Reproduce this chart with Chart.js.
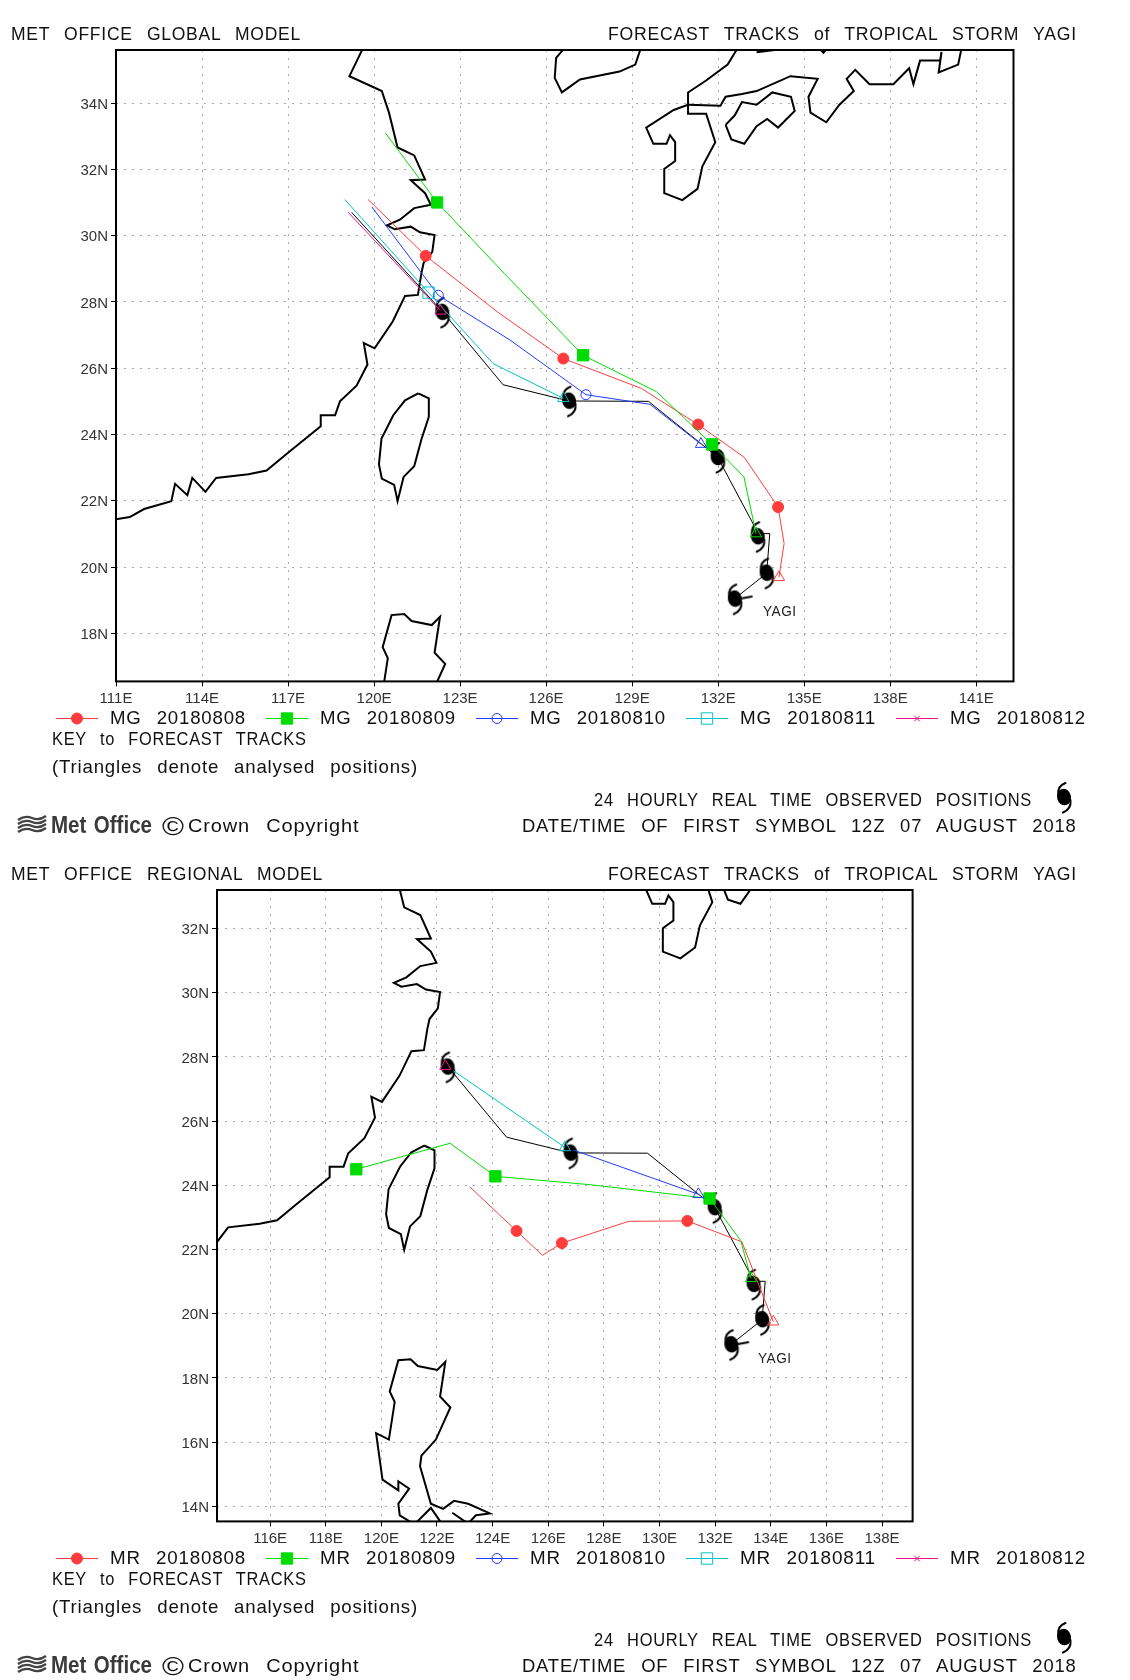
<!DOCTYPE html>
<html><head><meta charset="utf-8">
<style>
html,body{margin:0;padding:0;background:#fff;width:1130px;height:1680px;overflow:hidden}
canvas{position:absolute;left:0}
.t{position:absolute;white-space:pre;line-height:1;color:#111;transform-origin:0 50%;font-family:"Liberation Sans",sans-serif}
</style>
<script src="https://cdn.jsdelivr.net/npm/chart.js@4/dist/chart.umd.js"></script>
</head><body>
<script>
// ---------- coastlines (lon / lat) ----------
const chinaLon=[119.64,119.14,120.27,120.52,120.82,121.4,121.78,121.28,121.78,121.98,121.4,120.9,120.45,120.72,121.28,121.6,122.11,122.03,121.73,121.65,121.53,121.08,120.65,120.02,119.64,119.77,119.39,118.81,118.64,118.14,118.14,117.0,116.25,115.62,114.49,114.12,113.66,113.49,113.06,112.93,111.98,111.48,111.0];
const chinaLat=[35.7,34.81,34.36,33.71,32.66,32.42,31.69,31.67,31.28,30.93,30.83,30.48,30.31,30.19,30.27,30.1,30.02,29.51,29.18,28.86,28.21,28.18,27.41,26.6,26.76,26.11,25.47,25.0,24.58,24.58,24.25,23.45,22.91,22.8,22.69,22.27,22.69,22.17,22.51,21.99,21.75,21.51,21.44];
const taiwanLon=[121.54,121.91,121.91,121.65,121.4,121.03,120.82,120.7,120.27,120.17,120.26,120.67,121.08,121.54];
const taiwanLat=[25.24,25.09,24.53,23.85,23.04,22.72,21.99,22.48,22.67,23.1,23.88,24.58,25.03,25.24];
const koreaLon=[129.32,129.11,128.56,127.18,126.55,126.3,126.35,126.68];
const koreaLat=[35.7,35.16,34.95,34.71,34.32,34.76,35.36,35.7];
const honshuNLon=[132.71,132.33,131.58,130.95,130.95];
const honshuNLat=[35.7,35.16,34.68,34.32,33.95];
const kyushuLon=[130.95,130.45,129.49,129.74,130.2,130.32,130.5,130.5,130.12,130.12,130.75,131.28,131.45,131.9,131.58,130.95,130.95];
const kyushuLat=[33.95,33.79,33.26,32.77,32.77,33.03,32.82,32.25,32.01,31.28,31.07,31.41,32.09,32.82,33.68,33.68,33.95];
const honshuSLon=[130.95,132.08,132.26,132.83,133.34,134.52,135.47,135.15,135.22,135.77,136.23,136.73,136.48,136.78,137.28,138.11,138.66,138.81,139.04,139.74,139.79,139.69,140.37,140.5];
const honshuSLat=[33.95,33.92,34.19,34.27,34.36,34.81,34.73,34.19,33.71,33.42,33.95,34.36,34.73,35.0,34.57,34.57,35.05,34.57,35.28,35.28,35.54,34.92,35.16,35.7];
const shikokuLon=[132.26,132.46,132.91,133.34,133.71,134.09,134.67,134.54,133.89,133.34,132.83,132.58,132.26];
const shikokuLat=[33.34,32.9,32.77,33.3,33.52,33.26,33.76,34.19,34.32,33.95,34.03,33.63,33.34];
const capeALon=[133.34,133.97,134.2];
const capeALat=[35.53,35.6,35.7];
const capeBLon=[135.47,135.67,135.85];
const capeBLat=[35.7,35.52,35.7];
const luzonLon=[121.26,120.66,120.61,121.0,120.61,120.61,120.04,119.81,120.27,120.48,120.3,120.61,121.05,121.31,122.01,122.3,122.11,122.48,121.96,121.44,121.39,121.78,122.22,122.61,123.12,123.9,123.4,123.05];
const luzonLat=[13.4,13.72,14.08,14.55,14.78,14.5,14.83,16.28,16.08,17.25,17.58,18.55,18.58,18.37,18.25,18.5,17.42,17.08,16.08,15.58,15.25,14.08,13.92,14.17,14.08,13.78,13.72,13.4];
const isleLon=[121.26,121.78,122.22];
const isleLat=[13.5,13.95,13.4];
const isle2Lon=[122.55,123.05];
const isle2Lat=[13.8,13.5];

// ---------- observed track ----------
const obsLon=[132.58,133.69,133.8,133.4,131.98,129.57,126.8,124.5,122.38];
const obsLat=[19.05,19.81,21.01,21.01,23.32,25.0,25.01,25.5,27.71];
const obsExtLon=[122.38,119.22];
const obsExtLat=[27.71,30.7];
const symbolLon=[132.58,133.69,133.38,131.98,126.8,122.38];
const symbolLat=[19.05,19.83,20.93,23.32,25.02,27.7];

// ---------- global model forecasts (T = triangle, M = marker, - = no marker) ----------
const mg08Lon=[134.12,134.3,134.09,132.91,131.3,129.32,126.6,124.3,121.8,119.79];
const mg08Lat=[19.69,20.71,21.81,23.31,24.3,25.39,26.29,27.7,29.39,31.09];
const mg08Kind=['T','-','M','-','M','-','M','-','M','-'];
const mg09Lon=[133.32,132.9,131.79,129.85,127.29,124.54,122.2,120.4];
const mg09Lat=[21.01,22.72,23.7,25.29,26.39,28.86,31.0,33.09];
const mg09Kind=['T','-','M','-','M','-','M','-'];
const mg10Lon=[131.4,129.62,127.39,124.74,122.24,119.92];
const mg10Lat=[23.71,24.91,25.2,26.85,28.2,30.87];
const mg10Kind=['T','-','M','-','M','-'];
const mg11Lon=[126.6,124.15,121.9,118.98];
const mg11Lat=[25.09,26.14,28.28,31.09];
const mg11Kind=['T','-','M','-'];
const mg12Lon=[122.32,119.1];
const mg12Lat=[27.73,30.7];
const mg12Kind=['T','-'];

// ---------- regional model forecasts ----------
const mr08Lon=[134.09,132.96,131.0,128.9,126.49,125.79,124.86,123.18];
const mr08Lat=[19.75,22.24,22.89,22.88,22.2,21.82,22.58,23.95];
const mr08Kind=['T','-','M','-','M','-','M','-'];
const mr09Lon=[133.29,132.92,131.8,127.5,124.1,122.47,119.1];
const mr09Lat=[21.1,22.28,23.59,24.02,24.28,25.31,24.5];
const mr09Kind=['T','-','M','-','M','-','M'];
const mr10Lon=[131.4,126.9];
const mr10Lat=[23.72,25.1];
const mr10Kind=['T','-'];
const mr11Lon=[126.6,122.59];
const mr11Lat=[25.18,27.57];
const mr11Kind=['T','-'];
const mr12Lon=[122.3];
const mr12Lat=[27.71];
const mr12Kind=['T'];

// ---------- ticks and labels ----------
const globalLonTicks=[111,114,117,120,123,126,129,132,135,138,141];
const globalLatTicks=[18,20,22,24,26,28,30,32,34];
const regionalLonTicks=[116,118,120,122,124,126,128,130,132,134,136,138];
const regionalLatTicks=[14,16,18,20,22,24,26,28,30,32];
const mgLabels=['MG 20180808','MG 20180809','MG 20180810','MG 20180811','MG 20180812'];
const mrLabels=['MR 20180808','MR 20180809','MR 20180810','MR 20180811','MR 20180812'];
const stormName='YAGI';

// ---------- styles ----------
const RED='#ff3c3c',GREEN='#00dc00',BLUE='#1e3cff',CYAN='#00c4c4',MAG='#ee1088';
const styles=[
 {c:RED,ps:'circle',r:5.5,fill:true},
 {c:GREEN,ps:'rect',r:8,fill:true},
 {c:BLUE,ps:'circle',r:5,fill:false},
 {c:CYAN,ps:'rect',r:8,fill:false},
 {c:MAG,ps:'crossRot',r:4,fill:false}];

function pts(lon,lat){return lon.map((v,i)=>({x:v,y:lat[i]}));}
function coast(lon,lat){return {data:pts(lon,lat),showLine:true,borderColor:'#000',borderWidth:2,pointRadius:0,order:10};}
function track(lon,lat,kind,st,order){
  return {data:pts(lon,lat),showLine:true,borderColor:st.c,borderWidth:1,order,
    pointStyle:kind.map(k=>k==='T'?'triangle':st.ps),
    pointRadius:kind.map(k=>k==='T'?6.5:k==='M'?st.r:0),
    pointBorderColor:st.c,
    pointBorderWidth:1,
    pointBackgroundColor:kind.map(k=>(k==='M'&&st.fill)?st.c:'rgba(0,0,0,0)')};
}
function stormSymbol(stub){
  const c=document.createElement('canvas');c.width=c.height=44;
  const x=c.getContext('2d');x.translate(22,22);
  x.fillStyle='#000';x.strokeStyle='#000';x.lineWidth=2;x.lineCap='round';
  x.beginPath();x.ellipse(0,0,7,8.3,-0.25,0,Math.PI*2);x.fill();
  x.beginPath();x.moveTo(-5.5,-2);x.quadraticCurveTo(-7,-11,1.5,-14);x.stroke();
  x.beginPath();x.moveTo(6.5,3);x.quadraticCurveTo(7.5,12,-1,15.5);x.stroke();
  if(stub){x.beginPath();x.moveTo(6,0);x.lineTo(17,-2);x.stroke();}
  return c;
}
const symbol=stormSymbol(false);
const symbolFirst=stormSymbol(true);
const coastSets=[[chinaLon,chinaLat],[taiwanLon,taiwanLat],[koreaLon,koreaLat],[honshuNLon,honshuNLat],[kyushuLon,kyushuLat],[honshuSLon,honshuSLat],[shikokuLon,shikokuLat],[capeALon,capeALat],[capeBLon,capeBLat],[luzonLon,luzonLat],[isleLon,isleLat],[isle2Lon,isle2Lat]];

const framePlugin={id:'frame',afterDatasetsDraw(ch){
  const a=ch.chartArea,x=ch.ctx;x.save();x.strokeStyle='#000';x.lineWidth=2;
  x.strokeRect(a.left,a.top,a.right-a.left,a.bottom-a.top);
  x.restore();
  // legend swatches
  const cx=[77,287,497,707,917],y=718.5;
  styles.forEach((s,i)=>{
    x.save();x.strokeStyle=s.c;x.lineWidth=1;
    x.beginPath();x.moveTo(cx[i]-21,y);x.lineTo(cx[i]+21,y);x.stroke();
    x.fillStyle=s.fill?s.c:'rgba(0,0,0,0)';
    Chart.helpers.drawPoint(x,{pointStyle:s.ps,radius:s.r,rotation:0,borderWidth:1},cx[i],y);
    x.restore();
  });
}};

function makeChart(top,datasets,lonTicks,latTicks,xr,yr,pad){
  const cv=document.createElement('canvas');cv.style.top=top+'px';cv.width=1130;cv.height=840;
  document.body.appendChild(cv);
  const font={family:'"Liberation Sans Narrow","Liberation Sans",sans-serif',size:15};
  const axis=(arr,suffix,fit,off)=>({
    type:'linear',
    afterBuildTicks:s=>{s.ticks=arr.map(v=>({value:v}));},
    afterFit:fit,
    grid:{color:'#aaaaaa',lineWidth:1,tickColor:'#000',tickLength:5,tickBorderDash:[],drawTicks:true},
    border:{display:false,dash:[2,6]},
    ticks:{font,color:'#333',autoSkip:false,maxRotation:0,minRotation:0,padding:3,labelOffset:off,callback:v=>v+suffix}
  });
  const sx=axis(lonTicks,'E',s=>{s.height=30;},0);sx.min=xr[0];sx.max=xr[1];
  const sy=axis(latTicks,'N',s=>{s.width=50;},1.5);sy.min=yr[0];sy.max=yr[1];
  new Chart(cv,{type:'scatter',data:{datasets},plugins:[framePlugin],options:{
    responsive:false,animation:false,devicePixelRatio:1,events:[],
    layout:{padding:pad},
    plugins:{legend:{display:false},tooltip:{enabled:false},title:{display:false}},
    scales:{x:sx,y:sy}
  }});
}

function commonSets(){
  const d=coastSets.map(c=>coast(c[0],c[1]));
  d.push({data:pts(obsLon,obsLat),showLine:true,borderColor:'#000',borderWidth:1,pointRadius:0,order:9});
  d.push({data:pts(symbolLon,symbolLat),showLine:false,pointStyle:symbolLon.map((v,i)=>i===0?symbolFirst:symbol),pointRadius:10,order:8});
  return d;
}
makeChart(0,commonSets().concat([
  {data:pts(obsExtLon,obsExtLat),showLine:true,borderColor:'#000',borderWidth:1,pointRadius:0,order:9},
  track(mg08Lon,mg08Lat,mg08Kind,styles[0],5),
  track(mg09Lon,mg09Lat,mg09Kind,styles[1],4),
  track(mg10Lon,mg10Lat,mg10Kind,styles[2],3),
  track(mg11Lon,mg11Lat,mg11Kind,styles[3],2),
  track(mg12Lon,mg12Lat,mg12Kind,styles[4],1)
]),globalLonTicks,globalLatTicks,[111,142.3],[16.55,35.6],{left:66,right:116.5,top:50,bottom:128.6});
makeChart(840,commonSets().concat([
  track(mr08Lon,mr08Lat,mr08Kind,styles[0],5),
  track(mr09Lon,mr09Lat,mr09Kind,styles[1],4),
  track(mr10Lon,mr10Lat,mr10Kind,styles[2],3),
  track(mr11Lon,mr11Lat,mr11Kind,styles[3],2),
  track(mr12Lon,mr12Lat,mr12Kind,styles[4],1)
]),regionalLonTicks,regionalLatTicks,[114.09,139.1],[13.53,33.2],{left:167,right:217.4,top:50,bottom:128.6});

// ---------- DOM text ----------
function txt(s,x,yc,w,o){
  o=o||{};const size=o.size||18.5;
  const e=document.createElement('div');e.className='t';e.textContent=s;
  e.style.left=x+'px';e.style.top=(yc-size*0.4865)+'px';e.style.fontSize=size+'px';
  e.style.wordSpacing=(o.ws==null?9:o.ws)+'px';e.style.letterSpacing=(o.ls==null?0.8:o.ls)+'px';
  if(o.family)e.style.fontFamily=o.family;
  if(o.weight)e.style.fontWeight=o.weight;
  if(o.color)e.style.color=o.color;
  document.body.appendChild(e);
  const m=e.getBoundingClientRect().width;
  e.style.transform='scaleX('+(w/m)+')';
  return e;
}
const NARROW='"Liberation Sans Narrow","Liberation Sans",sans-serif';
function panelText(off,leftTitle,leftW,labels,yagiX,yagiY){
  txt(leftTitle,10.8,34.3+off,leftW);
  txt('FORECAST TRACKS of TROPICAL STORM YAGI',608,34.3+off,469);
  const lx=[110,320,530,740,950];
  labels.forEach((l,i)=>txt(l,lx[i],718.3+off,136));
  txt('KEY to FORECAST TRACKS',51.8,739.3+off,254.6);
  txt('(Triangles denote analysed positions)',51.8,766.7+off,366);
  txt('24 HOURLY REAL TIME OBSERVED POSITIONS',593.5,800+off,438);
  txt('DATE/TIME OF FIRST SYMBOL 12Z 07 AUGUST 2018',521.8,825.7+off,554.6);
  txt('Crown Copyright',187.5,825.7+off,171.5);
  txt('\u00a9',162,825.7+off,22,{size:26,ws:0,ls:0});
  txt('Met Office',50.7,825+off,101,{size:24,family:NARROW,weight:'bold',color:'#3a3a3a',ls:0,ws:2});
  txt(stormName,yagiX,yagiY,33.5,{size:14,family:NARROW,ws:0,ls:0.5,color:'#222'});
  // logo waves
  const ns='http://www.w3.org/2000/svg';
  const sv=document.createElementNS(ns,'svg');
  sv.setAttribute('width','30');sv.setAttribute('height','20');
  sv.style.cssText='position:absolute;left:17px;top:'+(815+off)+'px';
  [3,7,11,15].forEach(y=>{
    const p=document.createElementNS(ns,'path');
    p.setAttribute('d','M1 '+(y+2)+' Q8 '+(y-3)+' 15 '+y+' T29 '+(y-2));
    p.setAttribute('fill','none');p.setAttribute('stroke','#444');p.setAttribute('stroke-width','2.4');
    sv.appendChild(p);
  });
  document.body.appendChild(sv);
  // legend storm symbol
  const c=stormSymbol(false);
  c.style.left='1042px';c.style.top=(775+off)+'px';c.style.width='44px';c.style.height='44px';
  document.body.appendChild(c);
}
panelText(0,'MET OFFICE GLOBAL MODEL',290,mgLabels,763,611);
panelText(840,'MET OFFICE REGIONAL MODEL',312,mrLabels,758,1358);
</script>
</body></html>
